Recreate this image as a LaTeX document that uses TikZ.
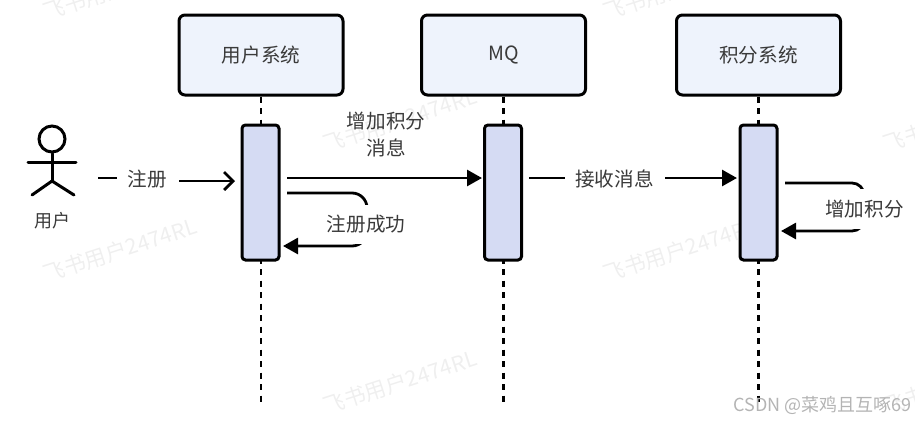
\documentclass[tikz,border=0pt]{standalone}
\usepackage{fontspec}
\setmainfont{Noto Sans CJK SC}
\usetikzlibrary{arrows.meta}
\definecolor{boxfill}{HTML}{EEF3FC}
\definecolor{actfill}{HTML}{D5DBF3}
\definecolor{txt}{HTML}{3A3A3A}
\definecolor{wm}{HTML}{EFEFEF}
\definecolor{csdn}{HTML}{B4B4B4}
\tikzset{
  headbox/.style={draw=black,line width=3pt,fill=boxfill,rounded corners=6pt,minimum width=164pt,minimum height=80pt,inner sep=0pt,text=txt,font=\fontsize{19.6}{22}\selectfont},
  actbox/.style={draw=black,line width=3pt,fill=actfill,rounded corners=3.5pt,minimum width=37pt,minimum height=135pt,inner sep=0pt},
  lifeline/.style={line width=2.8pt,dash pattern=on 6pt off 5.5pt},
  msg/.style={line width=2.8pt,-{Triangle[length=15pt,width=16pt]}},
  openmsg/.style={line width=2.8pt,-{Straight Barb[length=9pt,width=18pt,line width=2.8pt]}},
  lbl/.style={text=txt,font=\fontsize{19.6}{27}\selectfont,inner sep=0pt,align=center},
  cover/.style={lbl,fill=white},
  limb/.style={line width=3pt,line cap=round},
  mark wm/.style={text=wm,font=\fontsize{21.5}{24}\selectfont,rotate=18,inner sep=0pt}
}
\begin{document}
\begin{tikzpicture}[x=1pt,y=-1pt]
\useasboundingbox (0,0) rectangle (915,421);
\clip (0,0) rectangle (915,421);
% watermarks
\node[mark wm] (w1) at (120,-12) {飞书用户2474RL};
\node[mark wm] (w2) at (400,120) {飞书用户2474RL};
\node[mark wm] (w3) at (680,-12) {飞书用户2474RL};
\node[mark wm] (w4) at (960,120) {飞书用户2474RL};
\node[mark wm] (w5) at (120,250) {飞书用户2474RL};
\node[mark wm] (w6) at (400,382) {飞书用户2474RL};
\node[mark wm] (w7) at (680,250) {飞书用户2474RL};
\node[mark wm] (w8) at (960,382) {飞书用户2474RL};
% heads
\node[headbox] (h1) at (261,55) {用户系统};
\node[headbox] (h2) at (503.5,55) {MQ};
\node[headbox] (h3) at (758.5,55) {积分系统};
% lifelines
\coordinate (e1) at (261,405);
\coordinate (e2) at (503.5,405);
\coordinate (e3) at (758.5,405);
\draw[lifeline] (h1.south) -- (e1);
\draw[lifeline] (h2.south) -- (e2);
\draw[lifeline] (h3.south) -- (e3);
% activations
\node[actbox] (a1) at (260.5,192.5) {};
\node[actbox] (a2) at (503,192.5) {};
\node[actbox] (a3) at (758.5,192.5) {};
% actor
\node[draw=black,line width=3pt,circle,minimum size=26pt,inner sep=0pt] (head) at (52,139) {};
\coordinate (armL) at (28,162);
\coordinate (armR) at (76,162);
\coordinate (hip) at (52,181);
\coordinate (legL) at (32,195);
\coordinate (legR) at (74,195);
\draw[limb] (head.south) -- (hip);
\draw[limb] (armL) -- (armR);
\draw[limb] (legL) -- (hip) -- (legR);
\node[lbl,font=\fontsize{18}{22}\selectfont] (actor) at (52,221) {用户};
% message: register
\coordinate (m1s) at (98,178);
\coordinate (m1e) at (235,181);
\draw[line width=2.8pt] (m1s) -- (117,178);
\draw[openmsg] (179,181) -- (m1e);
\node[lbl] (l1) at (147.5,179) {注册};
% message: add points message
\coordinate (m2s) at (287,178);
\coordinate (m2e) at (482,178);
\draw[msg] (m2s) -- (m2e);
\node[lbl] (l2) at (386,134.5) {增加积分\\消息};
% message: receive
\coordinate (m3s) at (529,178);
\coordinate (m3e) at (737,178);
\draw[msg] (m3s) -- (m3e);
\node[cover,minimum width=100pt,minimum height=24pt] (l3) at (614.5,179) {接收消息};
% self loop 1
\coordinate (s1s) at (287,193);
\coordinate (s1e) at (283,246);
\draw[msg,rounded corners=15pt] (s1s) -| (367,246) -- (s1e);
\node[cover,minimum width=90pt,minimum height=39pt] (l4) at (366,224.5) {注册成功};
% self loop 2
\coordinate (s2s) at (785,183);
\coordinate (s2e) at (781,231);
\draw[msg,rounded corners=12pt] (s2s) -| (864,231) -- (s2e);
\node[cover,minimum width=90pt,minimum height=40pt] (l5) at (864.5,209) {增加积分};
% footer
\node[text=csdn,font=\fontsize{18}{20}\selectfont,anchor=east,inner sep=0pt] (c) at (912,405) {CSDN @菜鸡且互啄69};
\end{tikzpicture}
\end{document}
